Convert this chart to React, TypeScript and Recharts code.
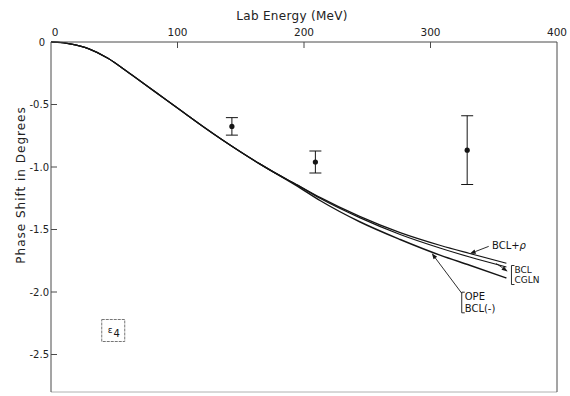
import React from 'react';
import {
  ComposedChart,
  Line,
  Scatter,
  ErrorBar,
  XAxis,
  YAxis,
  ReferenceDot,
  ReferenceLine,
} from 'recharts';

const FONT = '"DejaVu Sans", Verdana, sans-serif';
const INK = '#151515';
const AXIS = '#4a4a4a';

// Axis ticks
const energyTicks = [0, 100, 200, 300, 400];
const innerEnergyTicks = [100, 200, 300];
const phaseTicks = [0, -0.5, -1.0, -1.5, -2.0, -2.5];

// Low-energy part shared by all theoretical curves (MeV, degrees)
const commonEnergy = [0, 5, 15, 30, 45, 60, 75, 90, 105, 120, 135, 150, 165, 175];
const commonPhase = [0, -0.002, -0.015, -0.055, -0.13, -0.235, -0.345, -0.455, -0.565, -0.675, -0.78, -0.88, -0.975, -1.035];

// Higher-energy branches
const branchEnergy = [195, 213, 244, 276, 308, 331, 360];
const bclRhoPhase = [-1.145, -1.245, -1.395, -1.525, -1.628, -1.692, -1.77];
const bclPhase = [-1.147, -1.252, -1.405, -1.54, -1.65, -1.72, -1.8];
const opePhase = [-1.155, -1.27, -1.438, -1.58, -1.707, -1.786, -1.888];

// Experimental phase shifts with errors
const expEnergy = [143, 209, 329];
const expPhase = [-0.675, -0.96, -0.865];
const expError = [0.07, 0.088, 0.275];

const toPoints = (es: number[], ds: number[]) => es.map((E, i) => ({ E, d: ds[i] }));
const withCommon = (ds: number[]) => [...toPoints(commonEnergy, commonPhase), ...toPoints(branchEnergy, ds)];

const bclRhoData = withCommon(bclRhoPhase);
const bclData = withCommon(bclPhase);
const opeData = withCommon(opePhase);
const expData = expEnergy.map((E, i) => ({ E, d: expPhase[i], err: expError[i] }));

const TopTick = (props: any) => {
  const { x, y, payload } = props;
  const v = payload.value;
  return (
    <g>
      <text x={v === 0 ? x + 4 : x} y={y - 6} textAnchor="middle" fontSize={10.5} fontFamily={FONT} fill="#222">
        {v}
      </text>
      {v > 0 && v < 400 && <line x1={x} x2={x} y1={y} y2={y + 6} stroke={AXIS} strokeWidth={1} />}
    </g>
  );
};

const BottomTick = (props: any) => {
  const { x, y } = props;
  return <line x1={x} x2={x} y1={y} y2={y - 6} stroke={AXIS} strokeWidth={1} />;
};

const LeftTick = (props: any) => {
  const { x, y, payload } = props;
  const v = payload.value;
  const label = v === 0 ? '0' : v.toFixed(1);
  return (
    <g>
      <text
        x={v === 0 ? x - 6 : x - 2}
        y={y}
        textAnchor="end"
        dominantBaseline="central"
        fontSize={10}
        fontFamily={FONT}
        fill="#222"
      >
        {label}
      </text>
      {v !== 0 && <line x1={x} x2={x + 6} y1={y} y2={y} stroke={AXIS} strokeWidth={1} />}
    </g>
  );
};

const RightTick = (props: any) => {
  const { x, y, payload } = props;
  if (payload.value === 0) return <g />;
  return <line x1={x} x2={x - 6} y1={y} y2={y} stroke={AXIS} strokeWidth={1} />;
};

const Arrow = (props: any) => {
  const { x1, y1, x2, y2 } = props;
  const a = Math.atan2(y2 - y1, x2 - x1);
  const len = 6;
  const half = 2.2;
  const bx = x2 - len * Math.cos(a);
  const by = y2 - len * Math.sin(a);
  const px = -Math.sin(a) * half;
  const py = Math.cos(a) * half;
  return (
    <g>
      <line x1={x1} y1={y1} x2={bx} y2={by} stroke={INK} strokeWidth={0.9} />
      <polygon points={`${x2},${y2} ${bx + px},${by + py} ${bx - px},${by - py}`} fill={INK} />
    </g>
  );
};

const BclRhoLabel = (props: any) => {
  const { cx, cy } = props;
  return (
    <text x={cx} y={cy} dominantBaseline="central" fontSize={10} fontFamily={FONT} fill={INK}>
      BCL+<tspan fontStyle="italic">ρ</tspan>
    </text>
  );
};

const bracketLabel = (top: string, bottom: string, gap: number, size: number) => (props: any) => {
  const { cx, cy } = props;
  const h = gap + 9;
  return (
    <g>
      <path
        d={`M${cx + 3},${cy - h / 2} L${cx},${cy - h / 2} L${cx},${cy + h / 2} L${cx + 3},${cy + h / 2}`}
        fill="none"
        stroke={INK}
        strokeWidth={0.9}
      />
      <text x={cx + 3} y={cy - gap / 2} dominantBaseline="central" fontSize={size} fontFamily={FONT} fill={INK}>
        {top}
      </text>
      <text x={cx + 3} y={cy + gap / 2} dominantBaseline="central" fontSize={size} fontFamily={FONT} fill={INK}>
        {bottom}
      </text>
    </g>
  );
};

const BclLabel = bracketLabel('BCL', 'CGLN', 10, 9);
const OpeLabel = bracketLabel('OPE', 'BCL(-)', 11.6, 10);

const EpsilonBox = (props: any) => {
  const { cx, cy } = props;
  return (
    <g>
      <rect x={cx - 11.5} y={cy - 11} width={23} height={22} fill="none" stroke="#666" strokeWidth={0.9} strokeDasharray="3 1" />
      <text x={cx - 3} y={cy - 1} textAnchor="middle" dominantBaseline="central" fontSize={9} fontFamily={FONT} fill={INK}>
        ε
      </text>
      <text x={cx + 3.5} y={cy + 3} textAnchor="middle" dominantBaseline="central" fontSize={10} fontFamily={FONT} fill={INK}>
        4
      </text>
    </g>
  );
};

const TitleLabel = (props: any) => {
  const { viewBox } = props;
  const cx = viewBox.x + viewBox.width / 2 - 12;
  return (
    <text x={cx} y={16} textAnchor="middle" dominantBaseline="central" fontSize={12} fontFamily={FONT} fill="#222" letterSpacing={0.3}>
      Lab Energy (MeV)
    </text>
  );
};

const PhaseLabel = (props: any) => {
  const { viewBox } = props;
  const cy = viewBox.y + 143;
  return (
    <text
      x={21}
      y={cy}
      transform={`rotate(-90, 21, ${cy})`}
      textAnchor="middle"
      dominantBaseline="central"
      fontSize={12}
      fontFamily={FONT}
      fill="#222"
      letterSpacing={1}
    >
      Phase Shift in Degrees
    </text>
  );
};

const Dot = (props: any) => <circle cx={props.cx} cy={props.cy} r={2.6} fill={INK} />;

export default function App() {
  return (
    <div style={{ position: 'absolute', left: 0, top: 0, width: 570, height: 396, background: '#fff' }}>
      <ComposedChart width={570} height={396} margin={{ top: 41, right: 12, bottom: 3, left: 50 }}>
        <XAxis
          xAxisId="top"
          orientation="top"
          type="number"
          dataKey="E"
          domain={[0, 400]}
          ticks={energyTicks}
          height={1}
          tickSize={0}
          tickMargin={0}
          tickLine={false}
          axisLine={{ stroke: AXIS, strokeWidth: 1 }}
          tick={<TopTick />}
          interval={0}
          label={<TitleLabel />}
        />
        <XAxis
          xAxisId="bottom"
          orientation="bottom"
          type="number"
          dataKey="E"
          domain={[0, 400]}
          ticks={innerEnergyTicks}
          height={1}
          tickSize={0}
          tickMargin={0}
          tickLine={false}
          axisLine={{ stroke: '#b0b0b0', strokeWidth: 1 }}
          tick={<BottomTick />}
          interval={0}
        />
        <YAxis
          yAxisId="left"
          orientation="left"
          type="number"
          dataKey="d"
          domain={[-2.8, 0]}
          ticks={phaseTicks}
          width={1}
          tickSize={0}
          tickMargin={0}
          tickLine={false}
          axisLine={{ stroke: AXIS, strokeWidth: 1 }}
          tick={<LeftTick />}
          interval={0}
          label={<PhaseLabel />}
        />
        <YAxis
          yAxisId="right"
          orientation="right"
          type="number"
          dataKey="d"
          domain={[-2.8, 0]}
          ticks={phaseTicks}
          width={1}
          tickSize={0}
          tickMargin={0}
          tickLine={false}
          axisLine={{ stroke: AXIS, strokeWidth: 1 }}
          tick={<RightTick />}
          interval={0}
        />

        <Line xAxisId="top" yAxisId="left" data={opeData} dataKey="d" type="monotone" stroke={INK} strokeWidth={1.4} dot={false} isAnimationActive={false} />
        <Line xAxisId="top" yAxisId="left" data={bclData} dataKey="d" type="monotone" stroke={INK} strokeWidth={1.2} dot={false} isAnimationActive={false} />
        <Line xAxisId="top" yAxisId="left" data={bclRhoData} dataKey="d" type="monotone" stroke={INK} strokeWidth={1.2} dot={false} isAnimationActive={false} />

        <Scatter xAxisId="top" yAxisId="left" data={expData} dataKey="d" shape={<Dot />} isAnimationActive={false}>
          <ErrorBar dataKey="err" direction="y" width={6} stroke={INK} strokeWidth={1} />
        </Scatter>

        <ReferenceLine xAxisId="top" yAxisId="left" segment={[{ x: 346, y: -1.635 }, { x: 331, y: -1.694 }]} shape={<Arrow />} />
        <ReferenceLine xAxisId="top" yAxisId="left" segment={[{ x: 352, y: -1.772 }, { x: 361, y: -1.835 }]} shape={<Arrow />} />
        <ReferenceLine xAxisId="top" yAxisId="left" segment={[{ x: 324.7, y: -2.01 }, { x: 301, y: -1.69 }]} shape={<Arrow />} />

        <ReferenceDot xAxisId="top" yAxisId="left" x={348.6} y={-1.625} r={0} shape={<BclRhoLabel />} />
        <ReferenceDot xAxisId="top" yAxisId="left" x={364} y={-1.864} r={0} shape={<BclLabel />} />
        <ReferenceDot xAxisId="top" yAxisId="left" x={324.7} y={-2.084} r={0} shape={<OpeLabel />} />
        <ReferenceDot xAxisId="top" yAxisId="left" x={49.2} y={-2.308} r={0} shape={<EpsilonBox />} />
      </ComposedChart>
    </div>
  );
}
